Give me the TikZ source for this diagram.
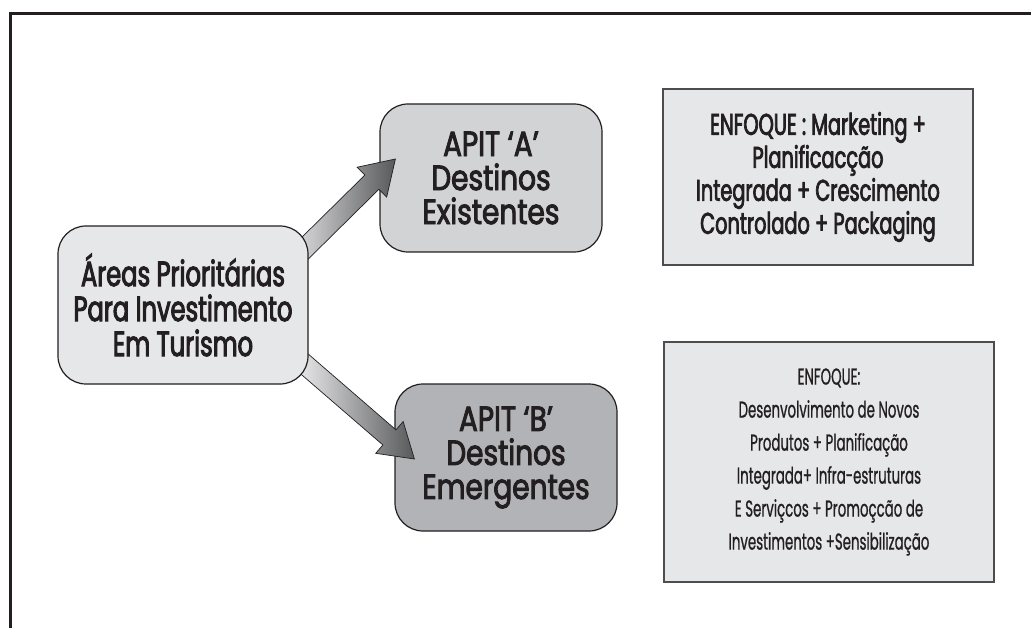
\documentclass[tikz,border=0pt]{standalone}
\usepackage{fontspec}
\newfontfamily\srcfont{Poppins}[FakeStretch=0.69,FakeBold=2.8]
\newfontfamily\apitfont{Poppins}[FakeStretch=0.8,FakeBold=2.6]
\newfontfamily\notefont{Poppins}[FakeStretch=0.645,FakeBold=2.4]
\newfontfamily\lightfont{Poppins}[FakeStretch=0.58,FakeBold=0.8]
\usetikzlibrary{calc}
\definecolor{ink}{HTML}{231F20}
\definecolor{edge}{HTML}{4D4D4F}
\definecolor{paleg}{HTML}{E6E7E8}
\definecolor{midg}{HTML}{D1D3D4}
\definecolor{darkg}{HTML}{B1B3B6}
\definecolor{shadelo}{HTML}{EDEDEE}
\definecolor{shadehi}{HTML}{58595B}
\tikzset{
  roundbox/.style={draw=ink, line width=1.2pt, rounded corners=28pt, align=center,
    inner sep=0pt, text=ink},
  notebox/.style={draw=edge, line width=2pt, fill=paleg, align=center, inner sep=0pt,
    text=ink},
  fatarrow/.style={draw=ink, line width=0.7pt, left color=shadelo, right color=shadehi}
}
% fat block arrow from #1 to tip #2
\newcommand\blockarrow[2]{%
  \coordinate (hb) at ($(#2)!33pt!(#1)$);
  \shade[fatarrow]
    ($(#1)!10pt!90:(#2)$) -- ($(hb)!10pt!90:(#2)$) -- ($(hb)!21pt!90:(#2)$) --
    (#2) -- ($(hb)!21pt!-90:(#2)$) -- ($(hb)!10pt!-90:(#2)$) --
    ($(#1)!10pt!-90:(#2)$) -- cycle;
}
\begin{document}
\begin{tikzpicture}[x=1pt,y=-1pt]
\useasboundingbox (0,0) rectangle (1031,628);
\fill[white] (0,0) rectangle (1031,628);

% destination boxes and notes
\node[roundbox, fill=midg, minimum width=222pt, minimum height=148pt,
  font=\apitfont\fontsize{35}{34}\selectfont] (a) at (491,178)
  {APIT ‘A’\\Destinos\\Existentes};
\node[roundbox, fill=darkg, minimum width=222pt, minimum height=147pt,
  font=\apitfont\fontsize{35}{34}\selectfont] (b) at (506,457.5)
  {APIT ‘B’\\Destinos\\Emergentes};
\node[notebox, minimum width=310pt, minimum height=176pt,
  font=\notefont\fontsize{30}{33}\selectfont] (fa) at (818,177)
  {ENFOQUE : Marketing +\\Planificacção\\Integrada + Crescimento\\Controlado + Packaging};
\node[notebox, minimum width=330pt, minimum height=240pt,
  font=\lightfont\fontsize{23}{33}\selectfont] (fb) at (829,462)
  {ENFOQUE:\\Desenvolvimento de Novos\\Produtos + Planificação\\Integrada+ Infra-estruturas\\E Serviçcos + Promoçcão de\\Investimentos +Sensibilização};

% arrows start under the source box, which is drawn afterwards
\coordinate (srcc) at (183,305);
\coordinate (sa) at ($(srcc)+(106,-41)$);
\coordinate (ta) at ($(a.west)+(16,-19)$);
\blockarrow{sa}{ta}
\coordinate (sb) at ($(srcc)+(118,56)$);
\coordinate (tb) at ($(b.west)+(20,1.5)$);
\blockarrow{sb}{tb}

\node[roundbox, fill=paleg, minimum width=250pt, minimum height=158pt,
  font=\srcfont\fontsize{35}{35}\selectfont] (src) at (srcc)
  {Áreas Prioritárias\\Para Investimento\\Em Turismo};

% page frame: top and left rules
\draw[ink, line width=2.8pt] (10.5,628) -- (10.5,13.8) -- (1031,13.8);
\end{tikzpicture}
\end{document}
